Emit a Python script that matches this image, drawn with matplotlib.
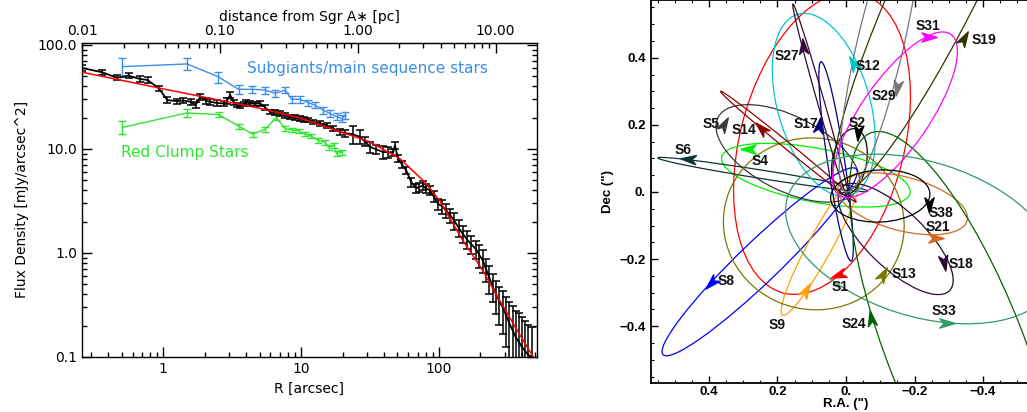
import numpy as np
import matplotlib
matplotlib.use('Agg')
import matplotlib.pyplot as plt
from matplotlib.patches import Ellipse
from matplotlib.markers import MarkerStyle
from matplotlib.path import Path
from matplotlib.transforms import Affine2D
from matplotlib.ticker import FixedLocator, NullFormatter, LogLocator

# ---------------- left panel data ----------------
r_all = [0.258, 0.36, 0.46, 0.56, 0.68, 0.77, 0.93, 1.07, 1.25, 1.4, 1.58, 1.72, 1.86, 2.05, 2.2,
         2.46, 2.74, 2.9, 3.06, 3.25, 3.43, 3.62, 3.85, 4.0, 4.27, 4.6, 5.05, 5.5, 5.97, 6.5,
         7.0, 7.6, 8.3, 9.0, 9.8, 10.5, 11.3, 12.3, 13.8, 15.3, 17.0, 19.1, 21.0, 23.8, 26.6,
         29.0, 31.5, 35.0, 39.4, 43.0, 46.6, 48.0, 50.5, 54, 58, 63, 68.5, 72, 76.4, 80,
         85.6, 92, 98.6, 106, 113, 121, 129, 139, 149, 160, 171, 186, 197, 208, 220,
         232, 245, 260, 275, 291, 308, 325, 343, 362, 380, 400, 420, 445, 470]
f_all = [60, 54.6, 48.4, 50.6, 47, 46, 38.2, 29.5, 28.8, 29.2, 28.4, 26.5, 31.7, 29, 28.4,
         27.6, 27.4, 29, 33, 28, 26.4, 25.8, 27, 28, 27.4, 27.2, 27.4, 25, 22.7, 22.3,
         21.9, 21, 20.3, 20, 19.6, 19.3, 18.9, 18.2, 17.6, 16.9, 15.8, 14.6, 14.2, 13.8, 13.1,
         11.8, 10.5, 9.9, 9.33, 9.3, 9.33, 10.8, 8.1, 7.1, 6.2, 4.8, 4.2, 4.3, 4.45, 4.2,
         4.0, 3.5, 2.97, 2.8, 2.56, 2.3, 2.05, 1.75, 1.53, 1.35, 1.22, 1.09, 0.95, 0.85, 0.7,
         0.58, 0.48, 0.40, 0.34, 0.30, 0.25, 0.21, 0.18, 0.154, 0.14, 0.125, 0.115, 0.105, 0.1]
rel_err_all = [0.06, 0.06, 0.06, 0.06, 0.06, 0.06, 0.06, 0.07, 0.06, 0.06, 0.06, 0.06, 0.06, 0.06, 0.06,
               0.06, 0.06, 0.06, 0.06, 0.05, 0.05, 0.05, 0.05, 0.05, 0.05, 0.05, 0.05, 0.05, 0.05, 0.05,
               0.05, 0.05, 0.05, 0.05, 0.05, 0.05, 0.05, 0.05, 0.05, 0.05, 0.05, 0.06, 0.08, 0.2, 0.15,
               0.1, 0.12, 0.1, 0.15, 0.12, 0.08, 0.08, 0.08, 0.08, 0.08, 0.1, 0.1, 0.1, 0.1, 0.1,
               0.1, 0.12, 0.12, 0.15, 0.15, 0.15, 0.18, 0.18, 0.18, 0.2, 0.2, 0.2, 0.25, 0.25, 0.25,
               0.3, 0.3, 0.35, 0.4, 0.45, 0.5, 0.6, 0.7, 0.8, 0.9, 0.95, 0.95, 0.95, 0.95]

r_fit = [0.258, 1, 2, 5, 10, 19, 31.5, 52, 79, 101, 149, 208, 260, 384, 484]
f_fit = [54.6, 37.8, 31.4, 24.6, 19.7, 14.7, 11.7, 8.07, 4.81, 3.2, 1.32, 0.68, 0.40, 0.166, 0.10]

r_sg = [0.505, 1.49, 2.5, 3.52, 4.4, 5.5, 6.5, 7.66, 8.56, 9.8, 11.3, 12.6, 14.5, 16.2, 18.1, 19.7, 21.0]
f_sg = [61.8, 65.6, 49.5, 37.4, 37.4, 36.8, 34.2, 36.8, 30, 30, 27.8, 26.4, 23.6, 21.9, 20.5, 19.6, 21.1]
e_sg = [13, 8.5, 6, 3.8, 3, 2.8, 2.6, 2.6, 2.2, 2.2, 2, 1.9, 1.7, 1.6, 1.5, 1.5, 1.6]

r_rc = [0.505, 1.49, 2.52, 3.52, 4.45, 5.5, 6.6, 7.66, 8.56, 9.6, 10.7, 11.9, 13.3, 14.9, 16.0, 17.3, 18.1, 19.7]
f_rc = [16.1, 22.2, 21.4, 16.6, 13.9, 15.5, 20.0, 15.7, 15.2, 14.9, 13.9, 13.3, 12.1, 11.6, 10.3, 10.9, 9.0, 9.3]
e_rc = [2.3, 1.8, 1.3, 0.9, 0.8, 0.8, 1.0, 0.8, 0.7, 0.7, 0.7, 0.7, 0.6, 0.6, 0.6, 0.6, 0.5, 0.5]

PC_PER_ARCSEC = 0.0388

# ---------------- right panel data ----------------
stars = ['S1', 'S2', 'S4', 'S5', 'S6', 'S8', 'S9', 'S12', 'S13', 'S14',
         'S17', 'S18', 'S19', 'S21', 'S24', 'S27', 'S29', 'S31', 'S33', 'S38']
orbit_colors = ['#ff0000', '#000000', '#00ee00', '#3a3a3a', '#0d3333', '#0000ff', '#ffa000', '#00c8c8',
                '#7a7a00', '#8b0000', '#00007a', '#2a0a33', '#333300', '#d2691e', '#006400', '#330a33',
                '#777777', '#ff00ff', '#2e9b6a', '#000000']
# projected orbit ellipses: centre (RA, Dec), full major / minor axis, orientation (deg)
orb_ra = [0.07, -0.01, 0.088, 0.17, 0.243, 0.252, 0.0725, 0.065, 0.094, 0.168,
          0.029, -0.145, -0.318, -0.165, -0.32, 0.0725, -0.1, -0.143, -0.22, -0.1]
orb_dec = [0.145, 0.09, 0.05, 0.115, 0.052, -0.208, -0.155, 0.26, -0.095, 0.135,
           0.091, -0.14, 0.725, -0.035, -0.468, 0.265, 0.439, 0.23, -0.14, -0.012]
orb_major = [0.92, 0.2, 0.56, 0.46, 0.62, 0.79, 0.48, 0.56, 0.53, 0.515,
             0.6, 0.44, 1.6, 0.39, 1.38, 0.613, 0.9, 0.58, 0.82, 0.29]
orb_minor = [0.48, 0.1, 0.16, 0.22, 0.025, 0.12, 0.07, 0.27, 0.51, 0.02,
             0.05, 0.17, 0.25, 0.16, 0.40, 0.02, 0.136, 0.2, 0.46, 0.155]
orb_angle = [104, 100, 11, 28, 9.2, -44.5, -62, 74.5, 20, 39.8,
             81.6, 44.5, 115, 15, 249, 74.4, 102.8, 124, 18, -3]
arrow_ra = [0.022, -0.036, 0.287, 0.355, 0.462, 0.394, 0.117, -0.02, -0.109, 0.248,
            0.078, -0.287, -0.345, -0.262, -0.073, 0.126, -0.15, -0.243, -0.296, -0.241]
arrow_dec = [-0.248, 0.175, 0.129, 0.204, 0.097, -0.271, -0.291, 0.385, -0.243, 0.19,
             0.2, -0.213, 0.459, -0.138, -0.375, 0.434, 0.31, 0.462, -0.389, -0.039]
arrow_dir = [200, -95, 180, 60, 175, 225, 60, 120, 60, 135,
             80, -80, 60, 0, 100, 95, -100, 0, 0, -90]
label_ra = [0.017, -0.032, 0.25, 0.394, 0.476, 0.35, 0.202, -0.063, -0.17, 0.298,
            0.117, -0.335, -0.403, -0.267, -0.022, 0.173, -0.112, -0.238, -0.287, -0.277]
label_dec = [-0.283, 0.205, 0.093, 0.204, 0.124, -0.266, -0.396, 0.374, -0.244, 0.184,
             0.204, -0.215, 0.454, -0.104, -0.393, 0.404, 0.285, 0.494, -0.356, -0.062]

ra_ticks = [0.4, 0.2, 0.0, -0.2, -0.4]
ra_ticklabels = ['0.4', '0.2', '0.', '\u22120.2', '\u22120.4']
dec_ticks = [-0.4, -0.2, 0.0, 0.2, 0.4]
dec_ticklabels = ['\u22120.4', '\u22120.2', '0.', '0.2', '0.4']

# ---------------- figure ----------------
W, H = 1027, 412
fig = plt.figure(figsize=(W / 100, H / 100), dpi=100)
plt.rcParams['font.family'] = ['DejaVu Sans']

# ===== left panel =====
axL = fig.add_axes([82 / W, (H - 357) / H, (537 - 82) / W, (357 - 42.7) / H])
axL.set_xscale('log')
axL.set_yscale('log')
axL.set_xlim(0.01 / PC_PER_ARCSEC * 0.999, 515)
axL.set_ylim(0.1, 105)

f_arr = np.array(f_all)
err = np.array(rel_err_all) * f_arr
err_lo = np.minimum(err, f_arr * 0.999)
axL.errorbar(r_all, f_all, yerr=[err_lo, err], color='black', lw=1.3, elinewidth=1.1,
             capsize=2.8, capthick=1.1, zorder=3)
axL.plot(r_fit, f_fit, color='#ff0000', lw=1.1, zorder=4)
blue = '#3a8ee6'
green = '#2fe62f'
axL.errorbar(r_sg, f_sg, yerr=e_sg, color=blue, lw=1.0, elinewidth=1.0, capsize=3, capthick=1.0, zorder=2)
axL.errorbar(r_rc, f_rc, yerr=e_rc, color=green, lw=1.0, elinewidth=1.0, capsize=3, capthick=1.0, zorder=2)

fig.text(247 / W, 1 - 69 / H, 'Subgiants/main sequence stars', color=blue, fontsize=11,
         va='center', ha='left')
fig.text(121 / W, 1 - 153 / H, 'Red Clump Stars', color=green, fontsize=11,
         va='center', ha='left')

axL.set_xticks([1, 10, 100])
axL.set_xticklabels(['1', '10', '100'])
axL.xaxis.set_minor_locator(LogLocator(base=10, subs=np.arange(2, 10)))
axL.xaxis.set_minor_formatter(NullFormatter())
axL.set_yticks([0.1, 1, 10, 100])
axL.set_yticklabels(['0.1', '1.0', '10.0', '100.0'])
axL.yaxis.set_minor_locator(LogLocator(base=10, subs=np.arange(2, 10)))
axL.yaxis.set_minor_formatter(NullFormatter())
axL.tick_params(which='both', direction='in', top=False, right=True, labelsize=10)
axL.tick_params(which='major', length=7, width=1)
axL.tick_params(which='minor', length=3.5, width=1)
axL.set_xlabel('R [arcsec]', fontsize=10, labelpad=4)
axL.set_ylabel('Flux Density [mJy/arcsec^2]', fontsize=10, labelpad=6)
for s in axL.spines.values():
    s.set_linewidth(1.0)

secax = axL.secondary_xaxis('top', functions=(lambda x: x * PC_PER_ARCSEC,
                                              lambda x: x / PC_PER_ARCSEC))
secax.set_xticks([0.01, 0.1, 1, 10])
secax.set_xticklabels(['0.01', '0.10', '1.00', '10.00'])
secax.xaxis.set_minor_locator(LogLocator(base=10, subs=np.arange(2, 10)))
secax.xaxis.set_minor_formatter(NullFormatter())
secax.tick_params(which='both', direction='in', labelsize=10)
secax.tick_params(which='major', length=7, width=1)
secax.tick_params(which='minor', length=3.5, width=1)
secax.set_xlabel('distance from Sgr A\u2217 [pc]', fontsize=10, labelpad=2)

# ===== right panel =====
axR = fig.add_axes([650.7 / W, (H - 383.3) / H, 390.6 / W, 383.3 / H])
axR.set_xlim(0.57, -0.57)
axR.set_ylim(-0.57, 0.572)

for i in range(len(stars)):
    e = Ellipse((orb_ra[i], orb_dec[i]), orb_major[i], orb_minor[i], angle=orb_angle[i],
                fill=False, edgecolor=orbit_colors[i], lw=0.9)
    axR.add_patch(e)

head = Path([(1.0, 0.0), (-1.0, 0.6), (-0.45, 0.0), (-1.0, -0.6), (1.0, 0.0)],
            [Path.MOVETO, Path.LINETO, Path.LINETO, Path.LINETO, Path.CLOSEPOLY])
for i in range(len(stars)):
    ms = MarkerStyle(head, transform=Affine2D().rotate_deg(arrow_dir[i]))
    axR.plot([arrow_ra[i]], [arrow_dec[i]], ls='none', marker=ms, ms=11,
             color=orbit_colors[i], mec=orbit_colors[i], zorder=5)
    axR.text(label_ra[i], label_dec[i], stars[i], fontsize=10, fontweight='bold',
             family='Liberation Sans', ha='center', va='center', color='#111111', zorder=6)

axR.set_xticks(ra_ticks)
axR.set_xticklabels(ra_ticklabels)
axR.set_yticks(dec_ticks)
axR.set_yticklabels(dec_ticklabels)
axR.xaxis.set_minor_locator(FixedLocator(np.arange(-0.55, 0.56, 0.05)))
axR.yaxis.set_minor_locator(FixedLocator(np.arange(-0.55, 0.56, 0.05)))
axR.tick_params(which='both', direction='in', top=True, right=True)
axR.tick_params(which='major', length=5, width=1)
axR.tick_params(which='minor', length=2.5, width=0.8)
axR.tick_params(axis='x', pad=2)
for lab in axR.get_xticklabels() + axR.get_yticklabels():
    lab.set_fontweight('bold')
    lab.set_family('Liberation Sans')
    lab.set_fontsize(9.5)
axR.set_xlabel('R.A. (")', fontsize=9.5, fontweight='bold', family='Liberation Sans', labelpad=0)
axR.set_ylabel('Dec (")', fontsize=9.5, fontweight='bold', family='Liberation Sans', labelpad=4)
for s in axR.spines.values():
    s.set_linewidth(1.3)

fig.savefig('out.png', dpi=100)
